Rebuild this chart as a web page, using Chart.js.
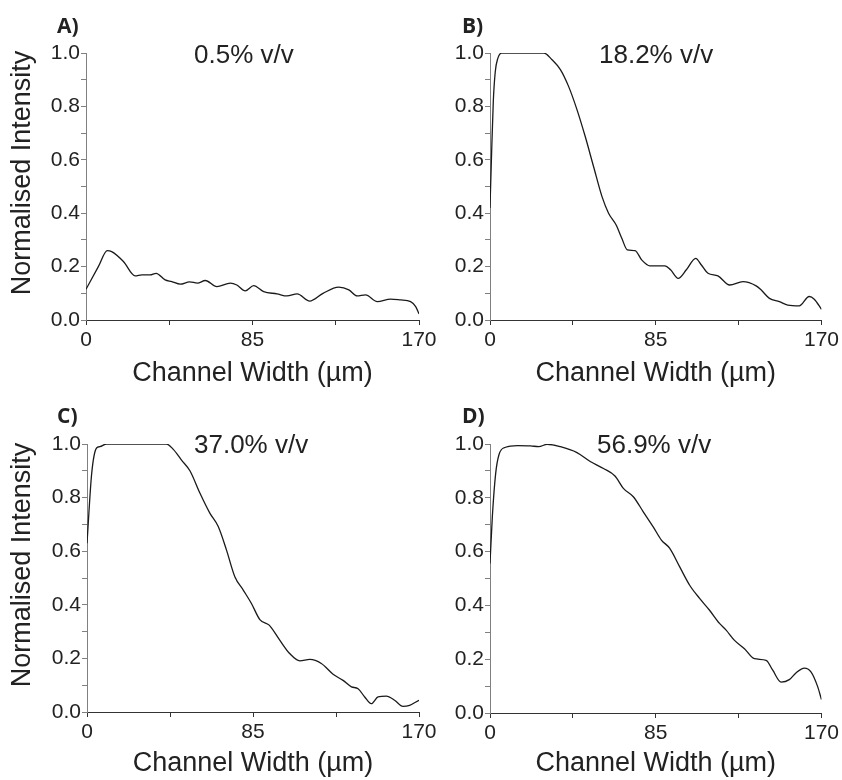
<!DOCTYPE html>
<html>
<head>
<meta charset="utf-8">
<script src="https://cdn.jsdelivr.net/npm/chart.js@4/dist/chart.umd.min.js"></script>
<style>
  body { margin: 0; background: #fff; }
  #wrap { position: relative; width: 842px; height: 780px; }
  .panel { position: absolute; width: 440px; height: 390px; }
</style>
</head>
<body>
<div id="wrap">
  <div class="panel" style="left:0;top:0"><canvas id="chartA" width="440" height="390"></canvas></div>
  <div class="panel" style="left:402px;top:0"><canvas id="chartB" width="440" height="390"></canvas></div>
  <div class="panel" style="left:0;top:390px"><canvas id="chartC" width="440" height="390"></canvas></div>
  <div class="panel" style="left:402px;top:390px"><canvas id="chartD" width="440" height="390"></canvas></div>
</div>
<script>
// channel width (um) and normalised intensity
const xA = [0, 6.3, 10.9, 13.1, 19.1, 25.1, 28.5, 32.7, 35.8, 40.4, 43.8, 48.1, 52.9, 56.9, 60.9, 66.8, 73.7, 77, 81.3, 85.6, 90.7, 97.5, 102.6, 107.8, 114.2, 121, 129, 134.2, 138.4, 142.7, 148.7, 155.5, 160.6, 165.7, 168.3, 170];
const yA = [0.115, 0.2, 0.26, 0.256, 0.219, 0.165, 0.169, 0.169, 0.175, 0.15, 0.144, 0.134, 0.143, 0.138, 0.148, 0.125, 0.138, 0.131, 0.109, 0.129, 0.106, 0.098, 0.09, 0.098, 0.071, 0.1, 0.123, 0.113, 0.09, 0.094, 0.069, 0.078, 0.075, 0.069, 0.05, 0.023];

const xB = [0, 0.8, 1.7, 2.7, 4, 6, 10, 20, 27.6, 31.8, 36.1, 40.3, 44.6, 48.8, 53.1, 57.4, 60.8, 64.7, 67.6, 70.4, 74.4, 77.8, 82, 89.7, 92.6, 96.5, 100.7, 105.5, 108.4, 111.8, 116.9, 122.9, 129.7, 136.5, 139, 143.3, 148.4, 152.7, 158.6, 163.7, 166.3, 170];
const yB = [0.42, 0.62, 0.82, 0.93, 0.98, 1.0, 1.0, 1.0, 1.0, 0.975, 0.938, 0.875, 0.788, 0.688, 0.575, 0.463, 0.4, 0.356, 0.306, 0.263, 0.26, 0.225, 0.203, 0.203, 0.188, 0.156, 0.188, 0.231, 0.206, 0.175, 0.165, 0.131, 0.144, 0.128, 0.113, 0.081, 0.069, 0.056, 0.053, 0.088, 0.078, 0.04];

const xC = [0, 2.4, 4.9, 6.6, 10, 25, 40.7, 44.2, 48.4, 52.7, 57.8, 62.9, 67.2, 71.4, 75.7, 80, 84.2, 88.5, 93.3, 98.7, 103.8, 109, 114.1, 120, 126, 131.1, 135.4, 138.8, 142.2, 145.6, 149, 153.3, 157.5, 161.8, 165.2, 170];
const yC = [0.63, 0.89, 0.985, 0.99, 1.0, 1.0, 1.0, 0.98, 0.94, 0.9, 0.817, 0.742, 0.692, 0.605, 0.505, 0.455, 0.405, 0.345, 0.324, 0.268, 0.218, 0.191, 0.196, 0.181, 0.141, 0.118, 0.094, 0.087, 0.056, 0.031, 0.056, 0.059, 0.044, 0.021, 0.025, 0.044];

const xD = [0, 1.2, 2.9, 4.6, 8, 14, 20.8, 25, 29.3, 36.1, 44.6, 51.4, 58.2, 64.1, 68.4, 73.5, 78.6, 83.7, 87.9, 92.2, 97.3, 102.4, 107.5, 112.6, 117.7, 121.1, 125.4, 130.5, 135.6, 141.6, 145, 149.3, 153.5, 156.9, 161.2, 164.6, 168, 170];
const yD = [0.556, 0.73, 0.89, 0.96, 0.988, 0.994, 0.993, 0.99, 0.999, 0.99, 0.968, 0.935, 0.909, 0.881, 0.835, 0.804, 0.748, 0.692, 0.643, 0.612, 0.543, 0.475, 0.426, 0.382, 0.333, 0.308, 0.27, 0.239, 0.202, 0.196, 0.159, 0.115, 0.124, 0.149, 0.167, 0.153, 0.099, 0.05];

const xTicks = [0, 42.5, 85, 127.5, 170];
const xTickLabels = ['0', '', '85', '', '170'];
const yTicks = [0, 0.1, 0.2, 0.3, 0.4, 0.5, 0.6, 0.7, 0.8, 0.9, 1.0];
const yTickLabels = ['0.0', '', '0.2', '', '0.4', '', '0.6', '', '0.8', '', '1.0'];

const panelLetters = ['A)', 'B)', 'C)', 'D)'];
const concentrations = ['0.5% v/v', '18.2% v/v', '37.0% v/v', '56.9% v/v'];
const xTitle = 'Channel Width (\u00b5m)';
const yTitle = 'Normalised Intensity';

const ink = '#222';
const sans = 'Arial, "Liberation Sans", sans-serif';

// panel letter, concentration note and (left column) y title
const panelText = {
  id: 'panelText',
  afterDraw(chart, args, o) {
    const c = chart.ctx;
    c.save();
    c.fillStyle = ink;
    c.textBaseline = 'alphabetic';
    c.textAlign = 'left';
    c.font = 'bold 21px "Open Sans", sans-serif';
    c.fillText(o.letter, o.letterX, 33);
    c.font = '26px ' + sans;
    c.fillText(o.note, o.noteX, 63);
    if (o.yTitle) {
      c.translate(23, o.yTitleY);
      c.rotate(-Math.PI / 2);
      c.textAlign = 'center';
      c.textBaseline = 'middle';
      c.font = '27px ' + sans;
      c.fillText(yTitle, 0, 0);
    }
    c.restore();
  }
};

function makeChart(id, xs, ys, i, layout) {
  const pts = xs.map((x, k) => ({ x: x, y: ys[k] }));
  return new Chart(document.getElementById(id), {
    type: 'line',
    data: {
      datasets: [{
        data: pts,
        borderColor: '#1a1a1a',
        borderWidth: 1.3,
        pointRadius: 0,
        cubicInterpolationMode: 'monotone',
        fill: false
      }]
    },
    options: {
      responsive: false,
      animation: false,
      events: [],
      layout: { padding: { top: layout.top, right: layout.right, left: 0, bottom: 0 } },
      plugins: {
        legend: { display: false },
        tooltip: { enabled: false },
        panelText: {
          letter: panelLetters[i],
          letterX: layout.letterX,
          note: concentrations[i],
          noteX: layout.noteX,
          yTitle: layout.yTitle,
          yTitleY: layout.yTitleY
        }
      },
      scales: {
        x: {
          type: 'linear',
          min: 0,
          max: 170,
          afterBuildTicks: s => { s.ticks = xTicks.map(v => ({ value: v })); },
          afterFit: s => { s.height = layout.xh; },
          ticks: {
            autoSkip: false,
            maxRotation: 0,
            padding: 3,
            color: ink,
            font: { family: sans, size: 21 },
            callback: (v, k) => xTickLabels[k]
          },
          grid: { drawOnChartArea: false, drawTicks: true, tickLength: 5, color: '#333' },
          border: { color: '#333', width: 1 },
          title: {
            display: true,
            text: xTitle,
            color: ink,
            font: { family: sans, size: 27 },
            padding: { top: 0, bottom: 0 }
          }
        },
        y: {
          min: 0,
          max: 1,
          afterBuildTicks: s => { s.ticks = yTicks.map(v => ({ value: v })); },
          afterFit: s => { s.width = layout.yw; },
          ticks: {
            autoSkip: false,
            padding: 1,
            color: ink,
            font: { family: sans, size: 21 },
            callback: (v, k) => yTickLabels[k]
          },
          grid: { drawOnChartArea: false, drawTicks: true, tickLength: 5, color: '#808080' },
          border: { color: '#808080', width: 1 }
        }
      }
    },
    plugins: [panelText]
  });
}

makeChart('chartA', xA, yA, 0, { top: 53, right: 21, xh: 70, yw: 86, letterX: 57, noteX: 194, yTitle: true, yTitleY: 173 });
makeChart('chartB', xB, yB, 1, { top: 53, right: 19, xh: 70, yw: 88, letterX: 60, noteX: 197, yTitle: false });
makeChart('chartC', xC, yC, 2, { top: 54, right: 21, xh: 68, yw: 87, letterX: 57, noteX: 194, yTitle: true, yTitleY: 175 });
makeChart('chartD', xD, yD, 3, { top: 54, right: 19, xh: 67, yw: 88, letterX: 60, noteX: 195, yTitle: false });
</script>
</body>
</html>
